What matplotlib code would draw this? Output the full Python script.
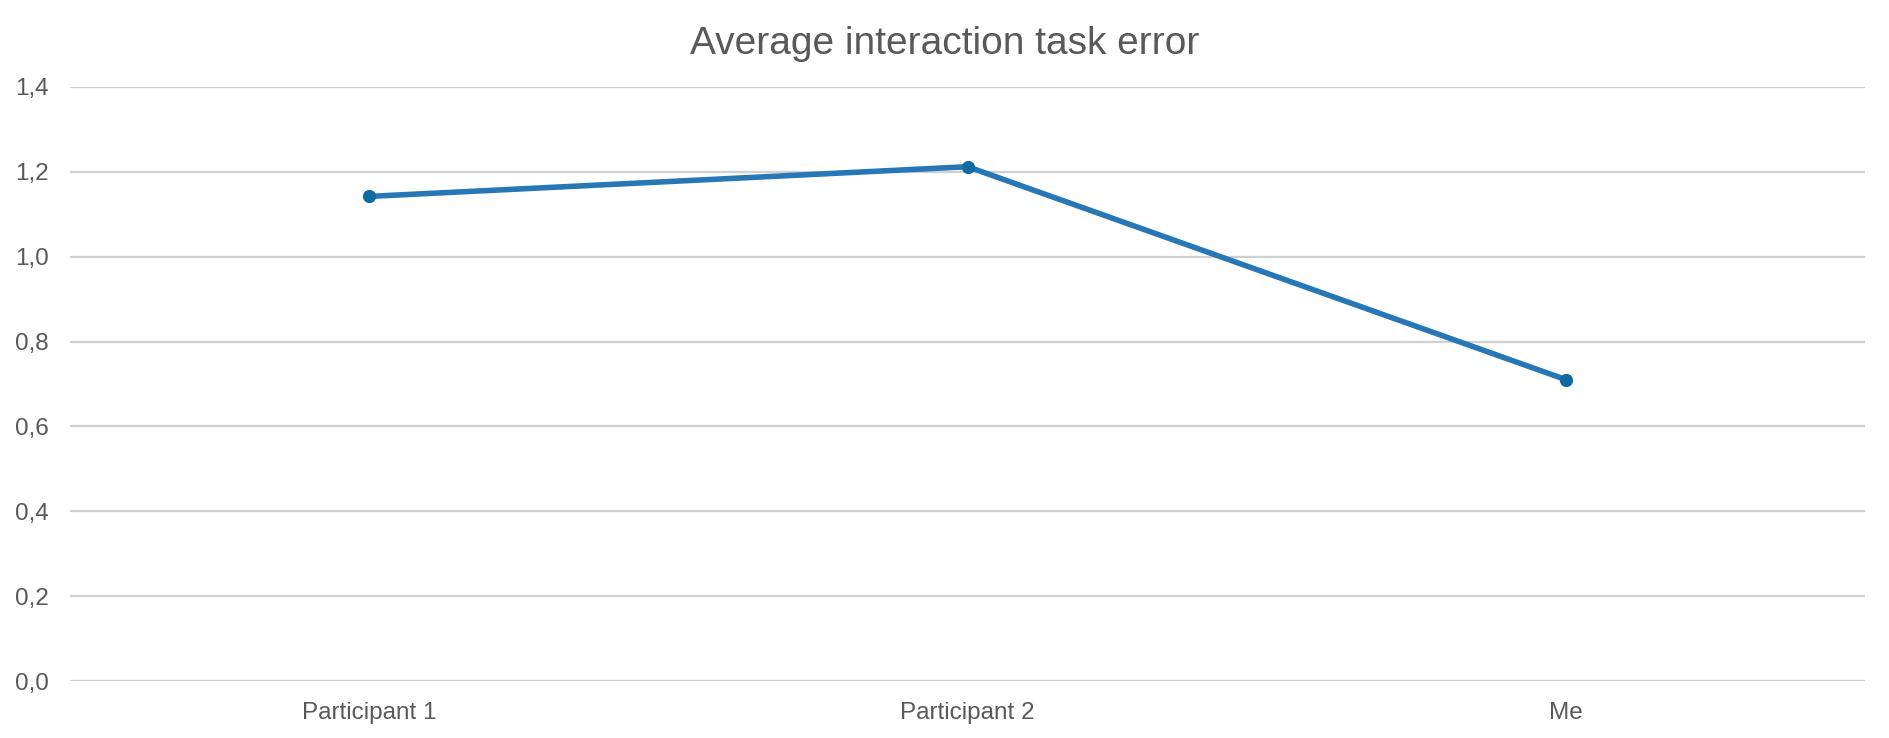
import matplotlib.pyplot as plt

# Daten
categories = ["Participant 1", "Participant 2", "Me"]
errors = [1.142, 1.212, 0.71]
yticks = [0.0, 0.2, 0.4, 0.6, 0.8, 1.0, 1.2, 1.4]

plt.rcParams['font.family'] = ['Liberation Sans', 'DejaVu Sans']

fig = plt.figure(figsize=(18.9, 7.38), dpi=100)
ax = fig.add_axes([0.037, 0.0772, 0.950, 0.805])

x = list(range(len(categories)))
ax.plot(x, errors, color="#2777B6", linewidth=4.0, marker="o",
        markersize=8.5, markerfacecolor="#0E6AA0", markeredgecolor="#0E6AA0",
        solid_capstyle="round", zorder=3)

ax.set_xlim(-0.5, len(categories) - 0.5)
ax.set_ylim(0, 1.4)
ax.set_xticks(x)
ax.set_xticklabels(categories)
ax.set_yticks(yticks)
ax.set_yticklabels([f"{v:.1f}".replace(".", ",") for v in yticks])

ax.grid(axis="y", color="#D0D0D0", linewidth=1.6)
ax.set_axisbelow(True)
for s in ax.spines.values():
    s.set_visible(False)
ax.tick_params(axis="both", length=0, labelsize=17.5, labelcolor="#595959")
ax.tick_params(axis="x", pad=15)
ax.tick_params(axis="y", pad=15)

fig.suptitle("Average interaction task error", fontsize=28, color="#595959",
             x=0.5, y=0.965)

fig.savefig("out.png", dpi=100)
